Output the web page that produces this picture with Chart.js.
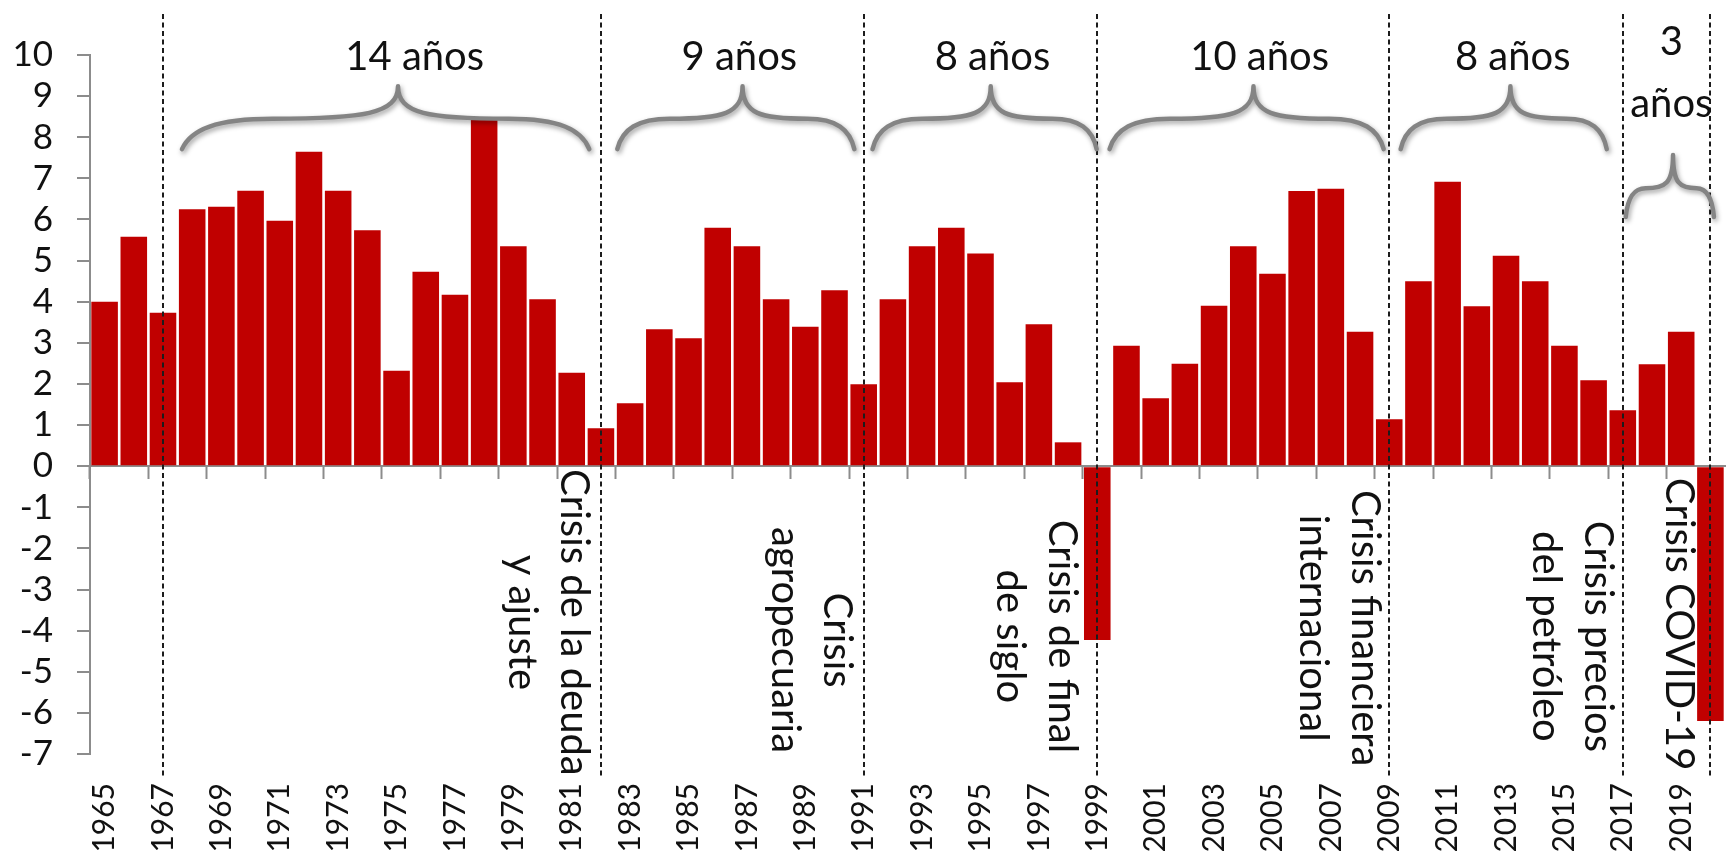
<!DOCTYPE html>
<html>
<head>
<meta charset="utf-8">
<script src="https://cdn.jsdelivr.net/npm/chart.js@4/dist/chart.umd.min.js"></script>
<style>
  html, body { margin: 0; padding: 0; background: #ffffff; }
  #wrap { width: 1727px; height: 858px; }
</style>
</head>
<body>
<div id="wrap"><canvas id="growth" width="1727" height="858"></canvas></div>
<script>
// Annual GDP growth (%), 1965-2020
const years = [
  '1965','1966','1967','1968','1969','1970','1971','1972','1973','1974',
  '1975','1976','1977','1978','1979','1980','1981','1982','1983','1984',
  '1985','1986','1987','1988','1989','1990','1991','1992','1993','1994',
  '1995','1996','1997','1998','1999','2000','2001','2002','2003','2004',
  '2005','2006','2007','2008','2009','2010','2011','2012','2013','2014',
  '2015','2016','2017','2018','2019','2020'
];
const growth = [
  4.0, 5.58, 3.73, 6.25, 6.31, 6.7, 5.97, 7.65, 6.7, 5.74,
  2.32, 4.73, 4.17, 8.43, 5.35, 4.06, 2.27, 0.92, 1.53, 3.33,
  3.11, 5.8, 5.35, 4.06, 3.39, 4.28, 1.99, 4.06, 5.35, 5.8,
  5.17, 2.04, 3.45, 0.58, -4.23, 2.93, 1.65, 2.49, 3.9, 5.35,
  4.68, 6.69, 6.75, 3.27, 1.14, 4.5, 6.92, 3.89, 5.12, 4.5,
  2.93, 2.09, 1.36, 2.48, 3.27, -6.2
];
const yMin = -7;
const yMax = 10;
const yStep = 1;

// Crisis years marked with a dashed line
const crisisYears = ['1967', '1982', '1991', '1999', '2009', '2017', '2020'];
// Length of each expansion period
const periodTexts = [['14 años'], ['9 años'], ['8 años'], ['10 años'], ['8 años'], ['3', 'años']];
// Crisis names
const crisisTexts = [
  ['Crisis de la deuda', 'y ajuste'],
  ['Crisis', 'agropecuaria'],
  ['Crisis de final', 'de siglo'],
  ['Crisis financiera', 'internacional'],
  ['Crisis precios', 'del petróleo'],
  ['Crisis COVID-19']
];

// ---- layout of the annotations (category index units / axis values) ----
const BAR_RED = '#c00000';
const AXIS_GREY = '#8c8c8c';
const INK = '#111111';
const FONT = 'Lato, "Open Sans", sans-serif';

const braceLayout = [
  { from: 2.65,  to: 16.60, tip: 10.05, end: 7.71, arm: 8.45, top: 9.24, textX: 10.62, textY: [9.63] },
  { from: 17.56, to: 25.68, tip: 21.85, end: 7.71, arm: 8.45, top: 9.24, textX: 21.74, textY: [9.63] },
  { from: 26.30, to: 33.98, tip: 30.35, end: 7.71, arm: 8.45, top: 9.24, textX: 30.41, textY: [9.63] },
  { from: 34.42, to: 43.81, tip: 39.35, end: 7.71, arm: 8.45, top: 9.24, textX: 39.56, textY: [9.63] },
  { from: 44.39, to: 51.45, tip: 48.15, end: 7.71, arm: 8.45, top: 9.24, textX: 48.23, textY: [9.63] },
  { from: 52.10, to: 55.12, tip: 53.72, end: 6.06, arm: 6.76, top: 7.57, textX: 53.66, textY: [10.0, 8.49] }
];
const crisisLayout = [
  { x: 15.17, y: -3.80 },
  { x: 24.18, y: -4.23 },
  { x: 31.91, y: -4.14 },
  { x: 42.29, y: -3.94 },
  { x: 50.27, y: -4.14 },
  { x: 53.92, y: -3.84 }
];
const dashTop = 11.0;
const dashBottom = -7.6;
const crisisLineGap = 52;

function drawBrace(ctx, x0, x1, xt, yE, yA, yT) {
  const dl = xt - x0, dr = x1 - xt;
  const xml = x0 + 0.42 * dl, xmr = x1 - 0.42 * dr;
  const rise = yA - yT;
  ctx.beginPath();
  ctx.moveTo(x0, yE);
  ctx.bezierCurveTo(x0 + 0.04 * dl, yA + 0.35 * (yE - yA), x0 + 0.16 * dl, yA, xml, yA);
  ctx.bezierCurveTo(xml + 0.42 * dl, yA, xt, yA - 0.15 * rise, xt, yT);
  ctx.bezierCurveTo(xt, yA - 0.15 * rise, xmr - 0.42 * dr, yA, xmr, yA);
  ctx.bezierCurveTo(x1 - 0.16 * dr, yA, x1 - 0.04 * dr, yA + 0.35 * (yE - yA), x1, yE);
  ctx.stroke();
}

const annotations = {
  id: 'annotations',
  afterDatasetsDraw(chart) {
    const { ctx } = chart;
    const xs = chart.scales.x, ys = chart.scales.y;
    ctx.save();
    ctx.strokeStyle = '#1c1c1c';
    ctx.lineWidth = 2;
    ctx.setLineDash([5, 3.5]);
    crisisYears.forEach(yr => {
      const px = Math.round(xs.getPixelForValue(years.indexOf(yr)));
      ctx.beginPath();
      ctx.moveTo(px, ys.getPixelForValue(dashTop));
      ctx.lineTo(px, ys.getPixelForValue(dashBottom));
      ctx.stroke();
    });
    ctx.restore();
  },
  afterDraw(chart) {
    const { ctx } = chart;
    const xs = chart.scales.x, ys = chart.scales.y;

    // braces over each expansion period
    ctx.save();
    ctx.strokeStyle = '#848484';
    ctx.lineWidth = 4.5;
    ctx.lineCap = 'round';
    ctx.lineJoin = 'round';
    ctx.shadowColor = 'rgba(0,0,0,0.38)';
    ctx.shadowBlur = 5;
    ctx.shadowOffsetX = 1.5;
    ctx.shadowOffsetY = 2.5;
    braceLayout.forEach(b => {
      drawBrace(ctx,
        xs.getPixelForValue(b.from), xs.getPixelForValue(b.to), xs.getPixelForValue(b.tip),
        ys.getPixelForValue(b.end), ys.getPixelForValue(b.arm), ys.getPixelForValue(b.top));
    });
    ctx.restore();

    // period lengths
    ctx.save();
    ctx.fillStyle = INK;
    ctx.font = '40px ' + FONT;
    ctx.textAlign = 'center';
    ctx.textBaseline = 'alphabetic';
    braceLayout.forEach((b, i) => {
      periodTexts[i].forEach((line, j) => {
        ctx.fillText(line, xs.getPixelForValue(b.textX), ys.getPixelForValue(b.textY[j]));
      });
    });
    ctx.restore();

    // crisis names, written downwards
    ctx.save();
    ctx.fillStyle = INK;
    ctx.font = '40px ' + FONT;
    ctx.textAlign = 'center';
    ctx.textBaseline = 'middle';
    crisisLayout.forEach((c, i) => {
      const lines = crisisTexts[i];
      const cx = xs.getPixelForValue(c.x);
      const cy = ys.getPixelForValue(c.y);
      lines.forEach((line, j) => {
        const offset = ((lines.length - 1) / 2 - j) * crisisLineGap;
        ctx.save();
        ctx.translate(cx + offset, cy);
        ctx.rotate(Math.PI / 2);
        ctx.fillText(line, 0, 0);
        ctx.restore();
      });
    });
    ctx.restore();
  }
};

function build() {
  Chart.defaults.font.family = FONT;
  new Chart(document.getElementById('growth'), {
    type: 'bar',
    data: {
      labels: years,
      datasets: [{
        data: growth,
        xAxisID: 'x',
        yAxisID: 'y',
        backgroundColor: BAR_RED,
        borderWidth: 0,
        categoryPercentage: 1,
        barPercentage: 0.91
      }]
    },
    options: {
      responsive: false,
      devicePixelRatio: 1,
      animation: false,
      layout: { padding: { left: 13, right: 2, top: 55, bottom: 0 } },
      plugins: { legend: { display: false }, tooltip: { enabled: false } },
      scales: {
        x: {
          type: 'category',
          position: { y: 0 },
          offset: true,
          grid: {
            offset: true,
            drawOnChartArea: false,
            drawTicks: true,
            tickLength: 12,
            tickWidth: 2,
            tickColor: c => (typeof c.index === 'number' && c.index % 2 === 0) ? AXIS_GREY : 'rgba(0,0,0,0)'
          },
          border: { display: true, color: AXIS_GREY, width: 2 },
          ticks: { display: false, autoSkip: false }
        },
        xl: {
          type: 'category',
          position: 'bottom',
          offset: true,
          grid: { display: false, drawTicks: false },
          border: { display: false },
          ticks: {
            autoSkip: false,
            minRotation: 90,
            maxRotation: 90,
            padding: 29,
            color: INK,
            font: { size: 30 },
            callback: (v, i) => (i % 2 === 0 ? years[i] : '')
          },
          afterFit: s => { s.height = 104; s.paddingLeft = 0; s.paddingRight = 0; }
        },
        y: {
          min: yMin,
          max: yMax,
          ticks: { stepSize: yStep, autoSkip: false, padding: 24, color: INK, font: { size: 35 } },
          grid: { drawOnChartArea: false, drawTicks: true, tickLength: 13, color: AXIS_GREY, lineWidth: 2 },
          border: { display: true, color: AXIS_GREY, width: 2 },
          afterFit: s => { s.width = 77; s.paddingTop = 0; s.paddingBottom = 0; }
        }
      }
    },
    plugins: [annotations]
  });
}

if (document.fonts && document.fonts.load) {
  Promise.all([document.fonts.load('40px Lato'), document.fonts.load('30px Lato')]).then(build, build);
} else {
  build();
}
</script>
</body>
</html>
